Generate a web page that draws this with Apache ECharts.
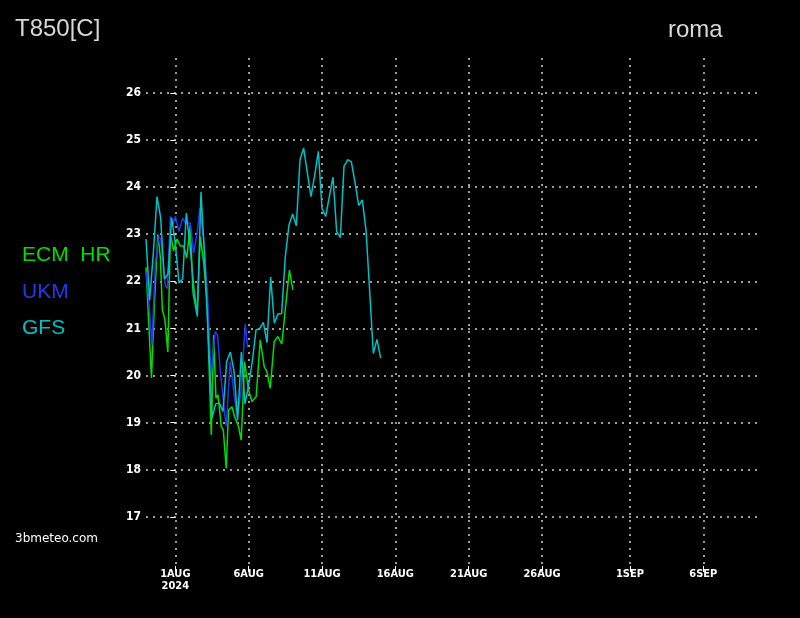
<!DOCTYPE html>
<html><head><meta charset="utf-8">
<script src="https://cdn.jsdelivr.net/npm/echarts@6/dist/echarts.min.js"></script>
<style>html,body{margin:0;padding:0;background:#000;}#c{width:800px;height:618px;}</style>
</head><body><div id="c"></div>
<script>
// ---- data (days from 1 Aug 2024 00 UTC) ----
const seriesNames = ['ECM  HR', 'UKM', 'GFS'];
const seriesColors = ['#00dd00', '#2338ee', '#00c0c4'];
const xTickDays = [0, 5, 10, 15, 20, 25, 31, 36];
const xTickLabels = ['1AUG\n2024', '6AUG', '11AUG', '16AUG', '21AUG', '26AUG', '1SEP', '6SEP'];
const yTickValues = [17, 18, 19, 20, 21, 22, 23, 24, 25, 26];

const ecmDays = [-2.00, -1.63, -1.43, -1.19, -1.02, -0.885, -0.715, -0.51, -0.34, -0.116, 0.116, 0.34, 0.565, 0.78, 1.02, 1.205, 1.477, 1.70, 1.93, 2.16, 2.45, 2.61, 2.77, 2.91, 3.13, 3.27, 3.47, 3.63, 3.86, 4.04, 4.31, 4.49, 4.72, 4.99, 5.22, 5.51, 5.79, 6.06, 6.24, 6.47, 6.74, 6.99, 7.26, 7.54, 7.78, 8.01];
const ecmValues = [22.3, 19.95, 21.5, 23.0, 22.5, 21.4, 21.2, 20.5, 23.0, 22.65, 22.9, 22.75, 22.75, 22.5, 23.2, 21.75, 21.3, 22.95, 22.4, 21.55, 18.74, 20.86, 19.52, 19.59, 18.92, 18.85, 18.03, 19.27, 19.34, 19.13, 18.92, 18.63, 20.3, 19.7, 19.45, 19.55, 20.76, 20.19, 20.09, 19.73, 20.72, 20.83, 20.67, 21.54, 22.24, 21.82];

const ukmDays = [-2.0, -1.82, -1.60, -1.36, -1.14, -0.99, -0.68, -0.54, -0.34, -0.18, 0, 0.245, 0.50, 0.68, 1.02, 1.25, 1.48, 1.67, 1.93, 2.21, 2.43, 2.72, 2.88, 3.06, 3.29, 3.47, 3.74, 3.97, 4.20, 4.46, 4.77, 4.92];
const ukmValues = [22.2, 21.64, 20.65, 22.38, 22.95, 22.9, 21.9, 21.85, 23.38, 23.2, 23.38, 23.06, 23.34, 23.24, 23.24, 22.6, 23.0, 23.55, 22.9, 21.6, 20.0, 20.93, 20.86, 20.12, 19.41, 18.92, 20.3, 19.7, 19.13, 19.6, 21.1, 20.6];

const gfsStartDay = -2;
const gfsStepDays = 0.25; // 6-hourly
const gfsValues = [22.9, 21.6, 22.6, 23.8, 23.35, 22.05, 22.15, 23.35, 22.8, 21.97,
  22.05, 23.45, 22.75, 21.9, 21.25, 23.9, 22.5, 20.8, 19.1, 19.4,
  19.42, 19.24, 20.3, 20.5, 20.1, 19.06, 20.5, 19.4, 19.8, 20.3,
  20.97, 21.0, 21.13, 20.7, 22.09, 21.11, 21.31, 21.32, 22.53, 23.2,
  23.43, 23.18, 24.58, 24.83, 24.3, 23.8, 24.25, 24.76, 23.55, 23.38,
  23.8, 24.21, 23.06, 22.93, 24.44, 24.58, 24.54, 24.1, 23.61, 23.73,
  23.09, 21.8, 20.47, 20.77, 20.37];

// ---- build ----
const pairs = (days, vals) => vals.map((v, i) => [days[i], v]);
const gfsDays = gfsValues.map((v, i) => gfsStartDay + i * gfsStepDays);
const allSeries = [pairs(ecmDays, ecmValues), pairs(ukmDays, ukmValues), pairs(gfsDays, gfsValues)];
const labelMap = {};
xTickDays.forEach((d, i) => labelMap[d] = xTickLabels[i]);

const axisFont = "'Liberation Sans Narrow', 'DejaVu Sans Condensed', 'Liberation Sans', sans-serif";
const thinFont = "'Liberation Sans', 'DejaVu Sans', sans-serif";
const gridLine = { show: true, lineStyle: { color: '#cfcfcf', type: [2, 5], width: 1.5 } };

const chart = echarts.init(document.getElementById('c'), null, { renderer: 'canvas' });
const graphics = [
  { type: 'text', left: 15, top: 17, style: { text: 'T850[C]', fill: '#d8d8d8', font: "24px " + thinFont } },
  { type: 'text', left: 668, top: 18, style: { text: 'roma', fill: '#d8d8d8', font: "24px " + thinFont, letterSpacing: 1 } },
  { type: 'text', left: 15, top: 533, style: { text: '3bmeteo.com', fill: '#ffffff', font: "12px 'DejaVu Sans', sans-serif" } }
];
seriesNames.forEach((n, i) => {
  graphics.push({ type: 'text', left: 22, top: 245 + i * 36.5, style: { text: n, fill: seriesColors[i], font: "21px " + thinFont } });
});

chart.setOption({
  backgroundColor: '#000',
  animation: false,
  grid: { left: 146, right: 38, top: 58, bottom: 52, containLabel: false },
  xAxis: {
    type: 'value', min: -2, max: 40,
    axisLine: { show: false },
    axisTick: { show: true, customValues: xTickDays, length: 6, lineStyle: { color: '#ffffff', width: 1 } },
    axisLabel: { customValues: xTickDays, formatter: v => labelMap[v] || '', color: '#ffffff', fontWeight: 'bold', fontSize: 11, margin: 2, lineHeight: 12, fontFamily: axisFont },
    splitLine: gridLine
  },
  yAxis: {
    type: 'value', min: 15.96, max: 26.74,
    axisLine: { show: false },
    axisTick: { show: true, customValues: yTickValues, length: 5, lineStyle: { color: '#ffffff', width: 1 } },
    axisLabel: { customValues: yTickValues, color: '#ffffff', fontWeight: 'bold', fontSize: 12, margin: 5, fontFamily: axisFont },
    splitLine: gridLine
  },
  graphic: graphics,
  series: allSeries.map((d, i) => ({
    name: seriesNames[i], type: 'line', data: d, showSymbol: false, symbol: 'none',
    lineStyle: { color: seriesColors[i], width: 1.5 }, itemStyle: { color: seriesColors[i] }, z: 2 + i
  }))
});
</script></body></html>
